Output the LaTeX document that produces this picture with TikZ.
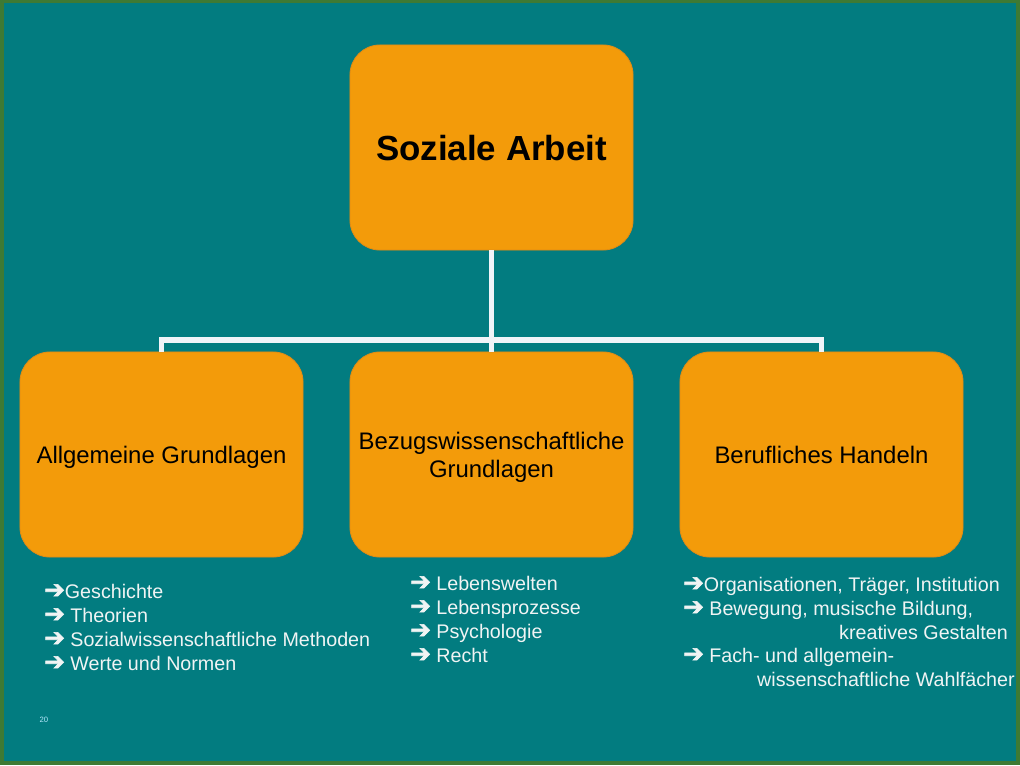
\documentclass[tikz,border=0pt]{standalone}
\usepackage{fontspec}
\setmainfont{Liberation Sans}
\newfontfamily\symfont[FakeBold=2.5]{DejaVu Sans}
\usetikzlibrary{positioning}

\definecolor{slideteal}{RGB}{2,124,128}
\definecolor{frame}{RGB}{62,122,52}
\definecolor{boxorange}{RGB}{243,155,10}
\definecolor{boxedge}{RGB}{226,140,20}
\definecolor{linewhite}{RGB}{240,244,248}
\definecolor{listwhite}{RGB}{240,244,244}

\newcommand{\arr}{{\symfont\fontsize{17.5}{17}\selectfont ➔}}

\begin{document}
\begin{tikzpicture}[x=0.025cm,y=-0.025cm]
    \tikzstyle{box}=[rectangle,rounded corners=0.75cm,fill=boxorange,draw=boxedge,line width=0.6pt,
        minimum width=7.075cm,minimum height=5.125cm,inner sep=2pt,align=center]
    \tikzstyle{head box}=[box,text depth=-4.2pt,font=\fontsize{24.8}{28}\selectfont\bfseries]
    \tikzstyle{field box}=[box,text depth=-2pt,font=\fontsize{17}{20}\selectfont]
    \tikzstyle{conn}=[draw=linewhite,line width=3.6pt]
    \tikzstyle{item}=[anchor=base west,inner sep=0pt,text=listwhite,font=\fontsize{14}{17}\selectfont]
    \tikzstyle{item right}=[item,anchor=base east]

    % Background and frame
    \fill[frame] (0,0) rectangle (1020,765);
    \fill[slideteal] (4,3) rectangle (1016,761);

    % Top node
    \node[head box] (SA) at (491.5,147.5) {Soziale Arbeit};

    % The three fields
    \foreach \name / \x / \txt in {1/161.5/Allgemeine Grundlagen,
            2/491.5/{Bezugswissenschaftliche\\Grundlagen},
            3/821.5/Berufliches Handeln}
        \node[field box] (F-\name) at (\x,454.5) {\txt};

    % Connect the top node with the fields
    \coordinate (J) at (491.5,340);
    \path[conn] (SA.south) -- (J);
    \foreach \dest in {1,...,3}
        \path[conn] (J) -| (F-\dest.north);

    % Lists below the fields
    \foreach \y / \txt in {598/{\arr Geschichte},622/{\arr\ Theorien},
            646/{\arr\ Sozialwissenschaftliche Methoden},670/{\arr\ Werte und Normen}}
        \node[item] at (44,\y) {\txt};

    \foreach \y / \txt in {590/Lebenswelten,614/Lebensprozesse,638/Psychologie,662/Recht}
        \node[item] at (410,\y) {\arr\ \txt};

    \node[item] (R-1) at (683,591) {\arr Organisationen, Träger, Institution};
    \node[item] (R-2) at (683,615) {\arr\ Bewegung, musische Bildung,};
    \node[item right] (R-3) at (1008,639) {kreatives Gestalten};
    \node[item] (R-4) at (683,662) {\arr\ Fach- und allgemein-};
    \node[item right] (R-5) at (1015,686) {wissenschaftliche Wahlfächer};

    % Page number
    \node[inner sep=0pt,text=cyan!30,font=\fontsize{5.5}{6}\selectfont] (num) at (44,720) {20};
\end{tikzpicture}
\end{document}
